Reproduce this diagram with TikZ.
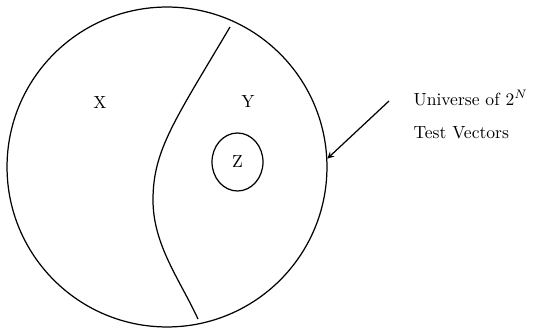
\documentclass[tikz,border=0pt]{standalone}
\usepackage{tikz}
\usetikzlibrary{shapes.geometric,arrows.meta,positioning}

\begin{document}
\begin{tikzpicture}[
    x=0.02cm, y=-0.02cm,
    >=stealth,
    line width=0.7pt,
    every node/.style={inner sep=0pt}
]
  \useasboundingbox (0,0) rectangle (545,333);

  % nodes
  \node[circle, draw, minimum size=6.4cm] (U) at (167,167) {};
  \node[ellipse, draw, minimum width=1.02cm, minimum height=1.16cm] (Z) at (237.5,162) {Z};
  \node (X) at (100,103) {X};
  \node (Y) at (248,102) {Y};
  \node[anchor=west] (univ) at (413,98) {Universe of $2^N$};
  \node[anchor=west] (vec) at (413,133) {Test Vectors};
  \coordinate (tail) at (389,101);

  % divider
  \draw (230,27) .. controls (175,120) and (153,150) .. (153,200)
                 .. controls (153,245) and (180,280) .. (198,319);

  % edges
  \draw[->] (tail) -- (U.3);
\end{tikzpicture}
\end{document}
